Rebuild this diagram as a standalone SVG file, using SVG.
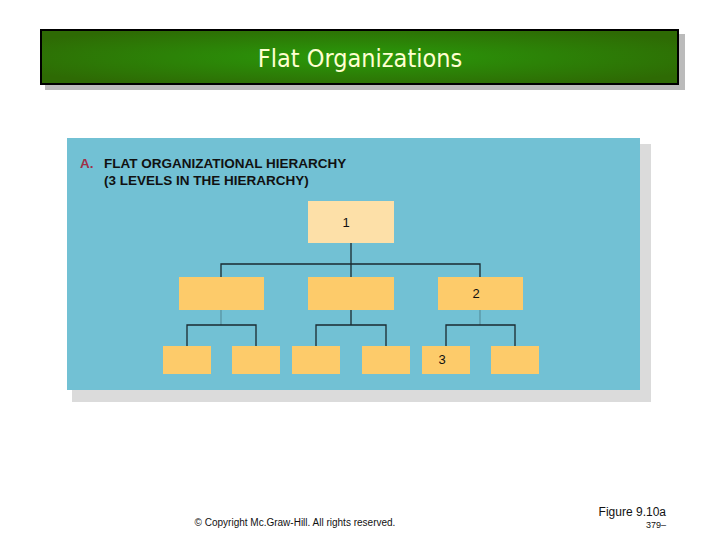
<svg xmlns="http://www.w3.org/2000/svg" width="720" height="540" viewBox="0 0 720 540">
<defs>
<radialGradient id="g" cx="0.5" cy="0.5" r="0.6"><stop offset="0" stop-color="#2a9a0a"/><stop offset="1" stop-color="#2e6a04"/></radialGradient>
<style>
.l{stroke:#1a2a30;stroke-width:1.3;fill:none}
.b{fill:#fdcb6a}
.n{font-family:"Liberation Sans",Arial,sans-serif;font-size:13px;fill:#111}
</style>
</defs>
<rect width="720" height="540" fill="#fff"/>
<rect x="45" y="34" width="640" height="56" fill="#bbb"/>
<rect x="41" y="30" width="637" height="54" fill="url(#g)" stroke="#000" stroke-width="2"/>
<text x="360" y="67" text-anchor="middle" font-family="'DejaVu Sans Condensed','Liberation Sans',sans-serif" font-size="25" fill="#ffffd0">Flat Organizations</text>
<rect x="72" y="144" width="579" height="258" fill="#ccc" opacity="0.7"/>
<rect x="67" y="138" width="573" height="252" fill="#72c1d4"/>
<text x="80" y="168" font-family="'Liberation Sans',Arial,sans-serif" font-weight="bold" font-size="13.5" fill="#a03048">A.</text>
<text x="104" y="168" font-family="'Liberation Sans',Arial,sans-serif" font-weight="bold" font-size="13.5" fill="#111">FLAT ORGANIZATIONAL HIERARCHY</text>
<text x="104" y="185" font-family="'Liberation Sans',Arial,sans-serif" font-weight="bold" font-size="13.5" fill="#111">(3 LEVELS IN THE HIERARCHY)</text>
<g id="connectors">
<path class="l" d="M351 243V277M221 277V264H480V277"/>
<path class="l" d="M221 310V325" stroke-opacity="0.3"/><path class="l" d="M187 346V325H256V346"/>
<path class="l" d="M351 310V325M316 346V325H386V346"/>
<path class="l" d="M480 310V325" stroke-opacity="0.3"/><path class="l" d="M446 346V325H515V346"/>
</g>
<g id="n1"><rect x="308" y="201" width="86" height="42" fill="#fde0a8"/><text class="n" x="346" y="227" text-anchor="middle">1</text></g>
<g id="n2a"><rect class="b" x="179" y="277" width="85" height="33"/></g>
<g id="n2b"><rect class="b" x="308" y="277" width="86" height="33"/></g>
<g id="n2c"><rect class="b" x="438" y="277" width="85" height="33"/><text class="n" x="476" y="298" text-anchor="middle">2</text></g>
<g id="n3a"><rect class="b" x="163" y="346" width="48" height="28"/></g>
<g id="n3b"><rect class="b" x="232" y="346" width="48" height="28"/></g>
<g id="n3c"><rect class="b" x="292" y="346" width="48" height="28"/></g>
<g id="n3d"><rect class="b" x="362" y="346" width="48" height="28"/></g>
<g id="n3e"><rect class="b" x="422" y="346" width="48" height="28"/><text class="n" x="442" y="364" text-anchor="middle">3</text></g>
<g id="n3f"><rect class="b" x="491" y="346" width="48" height="28"/></g>
<text x="295" y="526" text-anchor="middle" font-family="'Liberation Sans',Arial,sans-serif" font-size="10" fill="#111">© Copyright Mc.Graw-Hill. All rights reserved.</text>
<text x="666" y="516" text-anchor="end" font-family="'Liberation Sans',Arial,sans-serif" font-size="12" fill="#111">Figure 9.10a</text>
<text x="666" y="528" text-anchor="end" font-family="'Liberation Sans',Arial,sans-serif" font-size="9" fill="#111">379–</text>
</svg>
